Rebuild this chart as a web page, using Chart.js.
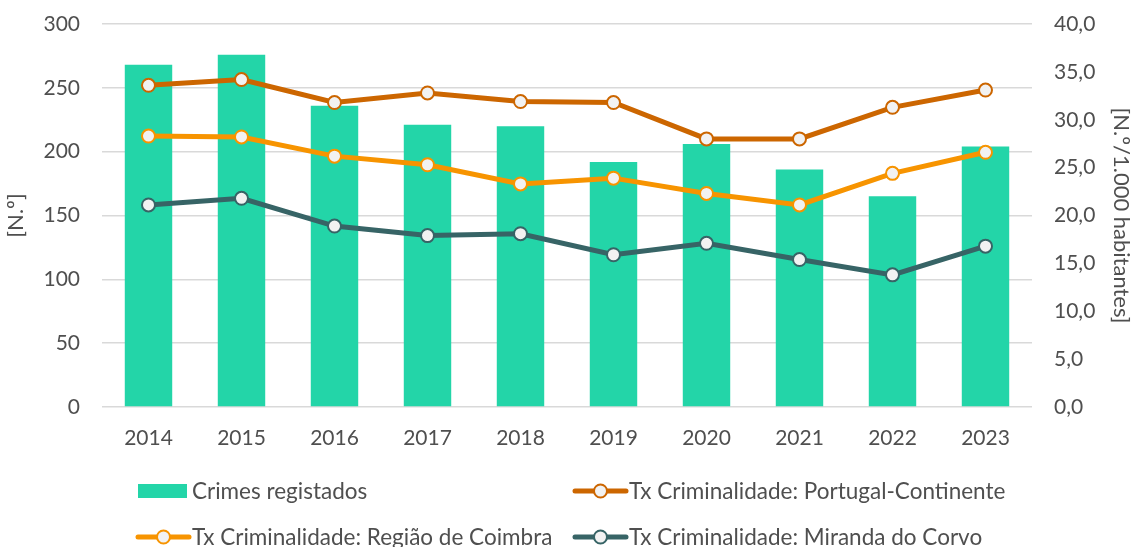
<!DOCTYPE html>
<html>
<head>
<meta charset="utf-8">
<script src="https://cdn.jsdelivr.net/npm/chart.js@4"></script>
<style>
  html, body { margin: 0; padding: 0; background: #ffffff; }
  #wrap { position: relative; width: 1134px; height: 547px; }
</style>
</head>
<body>
<div id="wrap"><canvas id="c" width="1134" height="547"></canvas></div>
<script>
// Anos
const years = ['2014', '2015', '2016', '2017', '2018', '2019', '2020', '2021', '2022', '2023'];

// Crimes registados (N.º)
const crimes = [268, 276, 236, 221, 220, 192, 206, 186, 165, 204];

// Taxa de criminalidade (N.º/1.000 habitantes)
const txPortugal = [33.6, 34.2, 31.8, 32.8, 31.9, 31.8, 28.0, 28.0, 31.3, 33.1];
const txCoimbra  = [28.3, 28.2, 26.2, 25.3, 23.3, 23.9, 22.3, 21.1, 24.4, 26.6];
const txMiranda  = [21.1, 21.8, 18.9, 17.9, 18.1, 15.9, 17.1, 15.4, 13.8, 16.8];

// Rótulos dos eixos
const leftTicks  = [0, 50, 100, 150, 200, 250, 300];
const rightTicks = [0, 5, 10, 15, 20, 25, 30, 35, 40];

const FONT = 'Lato, "Open Sans", sans-serif';
const TEXT = '#4f4f4f';
const GRID = '#d9d9d9';
const MARKER_FILL = '#f2f2f2';

const lineSeries = (label, data, color, order) => ({
  type: 'line',
  label,
  data,
  yAxisID: 'y2',
  borderColor: color,
  backgroundColor: color,
  borderWidth: 5,
  tension: 0,
  pointRadius: 6.5,
  pointHoverRadius: 6.5,
  pointBorderWidth: 2,
  pointBackgroundColor: MARKER_FILL,
  pointBorderColor: color,
  order
});

// Eixos verticais com largura fixa e sem margem extra para os rótulos
const fixVertical = s => {
  s.width = 102;
  s.paddingTop = 0;
  s.paddingBottom = 0;
};

// Legenda em duas colunas desenhada por baixo do gráfico
const gridLegend = {
  id: 'gridLegend',
  afterDraw(chart) {
    const ctx = chart.ctx;
    const ds = chart.data.datasets;
    const cols = [138, 575];
    const rows = [491, 537];
    const slots = [[0, 0], [1, 0], [0, 1], [1, 1]];
    ctx.save();
    ctx.font = '22.5px ' + FONT;
    ctx.fillStyle = TEXT;
    ctx.textBaseline = 'middle';
    ds.forEach((d, i) => {
      const x = cols[slots[i][0]];
      const y = rows[slots[i][1]];
      if (d.type === 'bar' || !d.type) {
        ctx.fillStyle = d.backgroundColor;
        ctx.fillRect(x, y - 7, 49, 14);
      } else {
        ctx.strokeStyle = d.borderColor;
        ctx.lineWidth = 5;
        ctx.lineCap = 'round';
        ctx.beginPath();
        ctx.moveTo(x, y);
        ctx.lineTo(x + 51, y);
        ctx.stroke();
        ctx.beginPath();
        ctx.arc(x + 25.5, y, 6.5, 0, Math.PI * 2);
        ctx.fillStyle = MARKER_FILL;
        ctx.fill();
        ctx.lineWidth = 2;
        ctx.stroke();
      }
      ctx.fillStyle = TEXT;
      ctx.fillText(d.label, x + 54, y + 1);
    });
    ctx.restore();
  }
};

new Chart(document.getElementById('c'), {
  data: {
    labels: years,
    datasets: [
      {
        type: 'bar',
        label: 'Crimes registados',
        data: crimes,
        yAxisID: 'y',
        backgroundColor: '#23d5a8',
        borderWidth: 0,
        categoryPercentage: 1,
        barPercentage: 0.51,
        order: 10
      },
      lineSeries('Tx Criminalidade: Portugal-Continente', txPortugal, '#cc6600', 3),
      lineSeries('Tx Criminalidade: Região de Coimbra', txCoimbra, '#f79400', 2),
      lineSeries('Tx Criminalidade: Miranda do Corvo', txMiranda, '#376466', 1)
    ]
  },
  options: {
    responsive: false,
    animation: false,
    devicePixelRatio: 1,
    layout: { padding: { top: 24, bottom: 100, left: 0, right: 0 } },
    plugins: {
      legend: { display: false },
      tooltip: { enabled: false }
    },
    scales: {
      x: {
        grid: { display: false, drawTicks: false },
        border: { display: false },
        ticks: { color: TEXT, font: { family: FONT, size: 21 }, padding: 19 },
        afterFit(s) { s.height = 40; s.paddingLeft = 0; s.paddingRight = 0; }
      },
      y: {
        position: 'left',
        min: 0,
        max: 300,
        afterBuildTicks(s) { s.ticks = leftTicks.map(v => ({ value: v })); },
        grid: { color: GRID, lineWidth: 1.5, drawTicks: false },
        border: { display: false },
        ticks: { color: TEXT, font: { family: FONT, size: 21 }, padding: 22 },
        title: {
          display: true,
          text: '[N.º]',
          color: TEXT,
          font: { family: FONT, size: 22 },
          padding: { top: 3, bottom: 0 }
        },
        afterFit: fixVertical
      },
      y2: {
        position: 'right',
        min: 0,
        max: 40,
        afterBuildTicks(s) { s.ticks = rightTicks.map(v => ({ value: v })); },
        grid: { display: false, drawTicks: false },
        border: { display: false },
        ticks: {
          color: TEXT,
          font: { family: FONT, size: 21 },
          padding: 22,
          callback: v => v.toFixed(1).replace('.', ',')
        },
        title: {
          display: true,
          text: '[N.º/1.000 habitantes]',
          color: TEXT,
          font: { family: FONT, size: 22 },
          padding: { top: 0, bottom: 0 }
        },
        afterFit: fixVertical
      }
    }
  },
  plugins: [gridLegend]
});
</script>
</body>
</html>
